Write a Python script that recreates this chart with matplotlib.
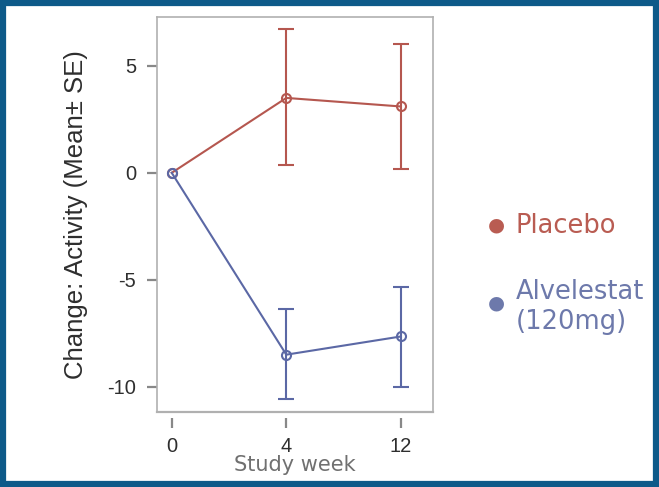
import matplotlib
matplotlib.use("Agg")
import matplotlib.pyplot as plt
from matplotlib.patches import Rectangle

weeks = ["0", "4", "12"]
placebo_mean = [0.0, 3.5, 3.1]
placebo_lo = [0.0, 0.35, 0.2]
placebo_hi = [0.0, 6.7, 6.0]
alv_mean = [0.0, -8.5, -7.65]
alv_lo = [0.0, -10.55, -10.0]
alv_hi = [0.0, -6.35, -5.35]

red = "#b5574f"
blue = "#5b68a5"
red_leg = "#b95c52"
blue_leg = "#6d79ab"

fig = plt.figure(figsize=(6.59, 4.87), dpi=100)
ax = fig.add_axes([0.238, 0.154, 0.419, 0.811])

x = list(range(len(weeks)))

def draw(mean, lo, hi, col):
    err = [[m - l for m, l in zip(mean, lo)], [h - m for m, h in zip(mean, hi)]]
    # baseline has no spread, so only weeks 4 and 12 get bars
    ax.errorbar(x[1:], mean[1:], yerr=[err[0][1:], err[1][1:]], fmt="none",
                ecolor=col, elinewidth=1.5, capsize=6, capthick=1.5)
    ax.plot(x, mean, color=col, lw=1.5, marker="o", ms=6.5, mfc="none", mew=1.5)

draw(placebo_mean, placebo_lo, placebo_hi, red)
draw(alv_mean, alv_lo, alv_hi, blue)

ax.set_xlim(-0.13, 2.28)
ax.set_ylim(-11.18, 7.28)
ax.set_xticks(x)
ax.set_xticklabels(weeks)
ax.set_yticks([5, 0, -5, -10])
ax.set_yticklabels(["5", "0", "-5", "-10"])

for s in ["top", "left", "right"]:
    ax.spines[s].set_color("#b0b0b0")
    ax.spines[s].set_linewidth(1.2)
ax.spines["bottom"].set_visible(False)
ax.spines["bottom"].set_position(("outward", 4))
ax.plot([0, 1], [0, 0], transform=ax.transAxes, color="#b0b0b0", lw=1.6, clip_on=False)

ax.tick_params(axis="both", colors="#888888", width=1.6, length=7)
ax.tick_params(axis="y", pad=8, labelcolor="#2e2e2e", labelsize=14.5)
ax.tick_params(axis="x", pad=7, labelcolor="#2e2e2e", labelsize=14.5)
for lab in ax.get_xticklabels() + ax.get_yticklabels():
    lab.set_family("Liberation Sans")

ax.set_ylabel("Change: Activity (Mean\u00b1 SE)", family="Liberation Sans",
              fontsize=18.5, color="#2e2e2e", labelpad=14)
ax.set_xlabel("Study week", family="DejaVu Sans", fontsize=15, color="#707070", labelpad=-1)

# legend on the right
fig.text(496 / 659, 1 - 225 / 487, "\u25cf", color=red_leg, fontsize=14, ha="center", va="center")
fig.text(516 / 659, 1 - 226 / 487, "Placebo", color=red_leg, fontsize=18.5, ha="left", va="center")
fig.text(496 / 659, 1 - 303 / 487, "\u25cf", color=blue_leg, fontsize=14, ha="center", va="center")
fig.text(516 / 659, 1 - 307 / 487, "Alvelestat\n(120mg)", color=blue_leg, fontsize=18.5,
         ha="left", va="center", linespacing=1.2)

# frame around the slide
fig.patches.append(Rectangle((3 / 659, 3 / 487), 1 - 6 / 659, 1 - 6 / 487, transform=fig.transFigure,
                             fill=False, edgecolor="#0d5a89", lw=4.5))

fig.savefig("out.png", dpi=100)
